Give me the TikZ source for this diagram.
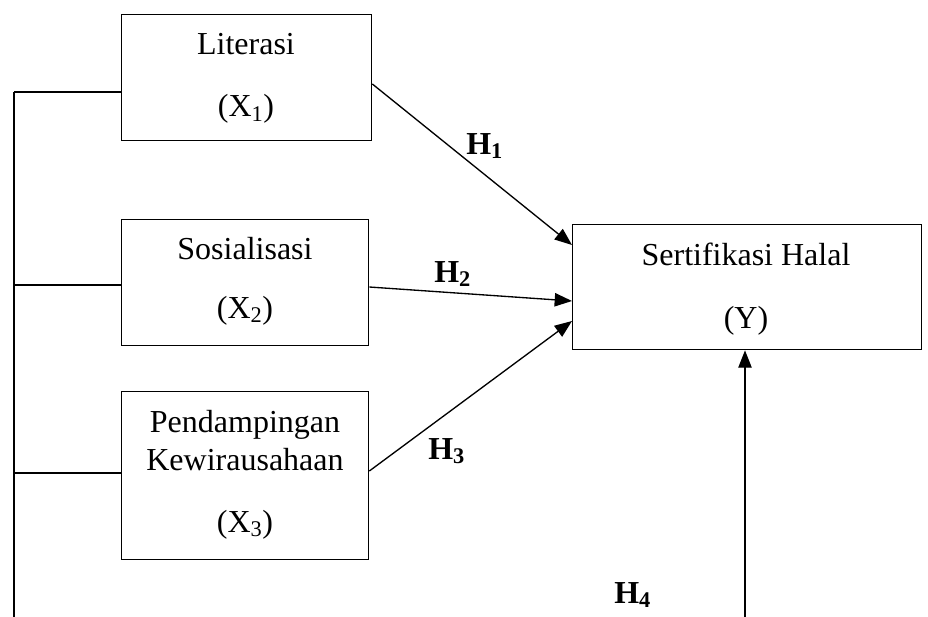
\documentclass[tikz,border=0pt]{standalone}
\usepackage{fontspec}
\setmainfont{Liberation Serif}
\usetikzlibrary{arrows.meta,calc}
\tikzset{
  boxnode/.style={draw, line width=1pt, inner sep=0pt, anchor=north west},
  txt/.style={inner sep=0pt, anchor=base, font=\fontsize{24}{28}\selectfont},
  hlab/.style={inner sep=0pt, anchor=base west, font=\fontsize{24}{28}\selectfont\bfseries},
  conn/.style={line width=1pt},
  arr/.style={line width=1pt, -{Triangle[length=13pt,width=10pt]}}
}
\begin{document}
\begin{tikzpicture}[x=0.75pt,y=-0.75pt]
\useasboundingbox (0,0) rectangle (928,617);
% boxes
\node[boxnode, minimum width=187.5pt, minimum height=94.5pt] (x1) at (121,14) {};
\node[boxnode, minimum width=185.25pt, minimum height=94.5pt] (x2) at (121,219) {};
\node[boxnode, minimum width=185.25pt, minimum height=126pt] (x3) at (121,391) {};
\node[boxnode, minimum width=261.75pt, minimum height=93.75pt] (yb) at (572,224) {};
% texts
\node[txt] (t1a) at (246,55) {Literasi};
\node[txt] (t1b) at (246,117) {(X\textsubscript{1})};
\node[txt] (t2a) at (245,259) {Sosialisasi};
\node[txt] (t2b) at (245,318) {(X\textsubscript{2})};
\node[txt] (t3a) at (245,432) {Pendampingan};
\node[txt] (t3b) at (245,470) {Kewirausahaan};
\node[txt] (t3c) at (245,532) {(X\textsubscript{3})};
\node[txt] (tya) at (746,265) {Sertifikasi Halal};
\node[txt] (tyb) at (746,328) {(Y)};
% hypothesis labels
\node[hlab] (h1) at (466,154) {H\textsubscript{1}};
\node[hlab] (h2) at (434,282) {H\textsubscript{2}};
\node[hlab] (h3) at (428,459) {H\textsubscript{3}};
\node[hlab] (h4) at (614,603) {H\textsubscript{4}};
% left spine
\coordinate (s1) at (14,92);
\coordinate (s2) at (14,285);
\coordinate (s3) at (14,473);
\coordinate (s4) at (14,617);
\draw[conn] (s1) -- (s4);
\draw[conn] (s1) -- (s1 -| x1.west);
\draw[conn] (s2) -- (s2 -| x2.west);
\draw[conn] (s3) -- (s3 -| x3.west);
% arrows
\draw[arr] ($(x1.north east)+(0,70)$) -- ($(yb.north west)+(0,21)$);
\draw[arr] ($(x2.north east)+(0,68)$) -- ($(yb.north west)+(0,77)$);
\draw[arr] ($(x3.north east)+(0,80)$) -- ($(yb.north west)+(0,97)$);
\coordinate (c4) at (745,617);
\draw[arr] (c4) -- (c4 |- yb.south);
\end{tikzpicture}
\end{document}
